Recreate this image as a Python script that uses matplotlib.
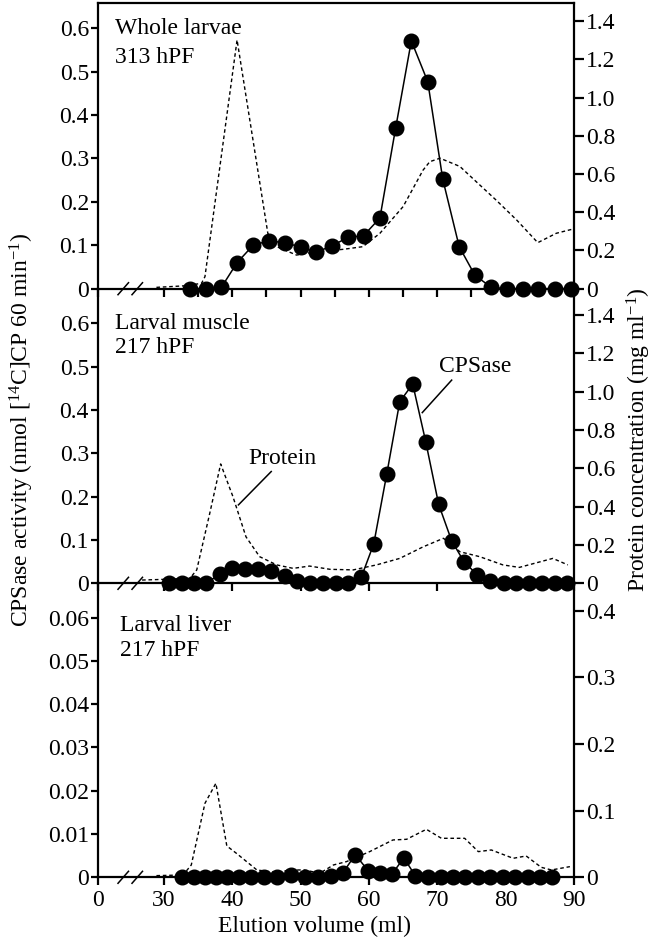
import numpy as np
import matplotlib
matplotlib.use("Agg")
import matplotlib.pyplot as plt

plt.rcParams['font.family'] = ['Liberation Serif', 'DejaVu Serif']
plt.rcParams['mathtext.fontset'] = 'custom'
plt.rcParams['mathtext.rm'] = 'Liberation Serif'
plt.rcParams['mathtext.it'] = 'Liberation Serif:italic'
FS = 17

# ---------------- data ----------------
# Whole larvae, 313 hPF
wl_cps_x = [33.8, 36.1, 38.4, 40.7, 43.1, 45.4, 47.7, 50.0, 52.3, 54.6, 56.9, 59.2, 61.6,
            63.9, 66.2, 68.6, 70.8, 73.2, 75.5, 77.9, 80.2, 82.5, 84.8, 87.2, 89.5]
wl_cps_y = [0.0, 0.0, 0.003, 0.060, 0.101, 0.110, 0.106, 0.096, 0.084, 0.099, 0.118, 0.122, 0.163,
            0.370, 0.571, 0.477, 0.252, 0.097, 0.031, 0.003, 0.0, 0.0, 0.0, 0.0, 0.0]
wl_prot_x = [28.9, 33.0, 35.5, 36.0, 40.7, 45.2, 46.5, 49.4, 52.3, 56.2, 59.1, 61.6, 65.0,
             67.9, 68.9, 70.4, 73.3, 75.7, 78.6, 81.6, 84.7, 87.4, 89.6]
wl_prot_y = [0.007, 0.015, 0.028, 0.063, 1.302, 0.290, 0.220, 0.176, 0.194, 0.206, 0.220, 0.290, 0.430,
             0.620, 0.665, 0.683, 0.640, 0.560, 0.464, 0.360, 0.241, 0.290, 0.310]

# Larval muscle, 217 hPF
lm_cps_x = [30.7, 32.6, 34.4, 36.2, 38.2, 40.0, 41.9, 43.8, 45.7, 47.7, 49.5, 51.3, 53.3, 55.2,
            57.0, 58.9, 60.7, 62.6, 64.5, 66.4, 68.3, 70.2, 72.1, 73.9, 75.8, 77.7, 79.7, 81.5,
            83.4, 85.3, 87.2, 89.0]
lm_cps_y = [0.0, 0.0, 0.0, 0.0, 0.022, 0.035, 0.032, 0.032, 0.028, 0.018, 0.005, 0.0, 0.0, 0.0,
            0.0, 0.015, 0.091, 0.252, 0.419, 0.460, 0.327, 0.182, 0.098, 0.050, 0.020, 0.005, 0.0, 0.0,
            0.0, 0.0, 0.0, 0.0]
lm_prot_x = [26.8, 30.4, 33.8, 34.8, 36.7, 38.3, 40.1, 42.0, 44.0, 46.5, 48.9, 51.3, 54.3, 57.7,
             61.1, 64.5, 67.9, 70.9, 73.3, 76.2, 79.6, 82.0, 86.9, 89.1]
lm_prot_y = [0.017, 0.021, 0.026, 0.070, 0.365, 0.623, 0.452, 0.243, 0.139, 0.096, 0.078, 0.090, 0.073, 0.070,
             0.096, 0.130, 0.190, 0.235, 0.165, 0.139, 0.096, 0.083, 0.130, 0.096]

# Larval liver, 217 hPF
lv_cps_x = [32.6, 34.4, 36.0, 37.6, 39.2, 41.0, 42.8, 44.7, 46.6, 48.6, 50.6, 52.6, 54.5, 56.2,
            58.0, 59.9, 61.6, 63.4, 65.1, 66.8, 68.7, 70.5, 72.3, 74.1, 75.9, 77.7, 79.6, 81.3,
            83.2, 85.0, 86.8]
lv_cps_y = [0.0, 0.0, 0.0, 0.0, 0.0, 0.0, 0.0, 0.0, 0.0, 0.0005, 0.0, 0.0, 0.0004, 0.0011,
            0.0052, 0.0015, 0.0011, 0.0008, 0.0045, 0.0003, 0.0, 0.0, 0.0, 0.0, 0.0, 0.0, 0.0, 0.0,
            0.0, 0.0, 0.0]
lv_prot_x = [28.9, 32.8, 34.0, 36.0, 37.6, 39.2, 40.6, 43.6, 46.5, 48.4, 50.6, 52.8, 54.8, 56.7,
             60.1, 63.5, 65.5, 68.4, 70.6, 74.0, 76.0, 77.9, 81.1, 83.0, 85.2, 86.7, 89.4]
lv_prot_y = [0.0025, 0.0035, 0.0185, 0.111, 0.141, 0.047, 0.036, 0.011, 0.007, 0.011, 0.011, 0.006, 0.0185, 0.0235,
             0.0385, 0.056, 0.057, 0.072, 0.0585, 0.0585, 0.0385, 0.041, 0.0285, 0.032, 0.015, 0.011, 0.016]

panel_titles = [("Whole larvae", "313 hPF"), ("Larval muscle", "217 hPF"), ("Larval liver", "217 hPF")]
left_ticks = [[0, 0.1, 0.2, 0.3, 0.4, 0.5, 0.6],
              [0, 0.1, 0.2, 0.3, 0.4, 0.5, 0.6],
              [0, 0.01, 0.02, 0.03, 0.04, 0.05, 0.06]]
left_ticklabels = [["0", "0.1", "0.2", "0.3", "0.4", "0.5", "0.6"],
                   ["0", "0.1", "0.2", "0.3", "0.4", "0.5", "0.6"],
                   ["0", "0.01", "0.02", "0.03", "0.04", "0.05", "0.06"]]
right_ticks = [[0, 0.2, 0.4, 0.6, 0.8, 1.0, 1.2, 1.4],
               [0, 0.2, 0.4, 0.6, 0.8, 1.0, 1.2, 1.4],
               [0, 0.1, 0.2, 0.3, 0.4]]
right_ticklabels = [["0", "0.2", "0.4", "0.6", "0.8", "1.0", "1.2", "1.4"],
                    ["0", "0.2", "0.4", "0.6", "0.8", "1.0", "1.2", "1.4"],
                    ["0", "0.1", "0.2", "0.3", "0.4"]]
left_lims = [0.6576, 0.680, 0.0679]
right_lims = [1.494, 1.538, 0.441]
x_major = [0, 30, 40, 50, 60, 70, 80, 90]
x_major_labels = ["0", "30", "40", "50", "60", "70", "80", "90"]
x_fine = [0, 30, 35, 40, 45, 50, 55, 60, 65, 70, 75, 80, 85, 90]

cps_sets = [(wl_cps_x, wl_cps_y), (lm_cps_x, lm_cps_y), (lv_cps_x, lv_cps_y)]
prot_sets = [(wl_prot_x, wl_prot_y), (lm_prot_x, lm_prot_y), (lv_prot_x, lv_prot_y)]

# ---------------- broken x scale (0-26 ml compressed) ----------------
B = 26.0
K = 0.2173


def fwd(x):
    x = np.asarray(x, dtype=float)
    return np.where(x >= B, x, B - (B - x) * K)


def inv(y):
    y = np.asarray(y, dtype=float)
    return np.where(y >= B, y, B - (B - y) / K)


W, H = 655, 940
fig = plt.figure(figsize=(W / 100, H / 100), dpi=100)

# panel frames in pixels: (top, bottom)
frames = [(3.3, 288.7), (288.7, 583.3), (583.3, 877.3)]
x0px, x1px = 98, 574
LW = 1.6

for i, (top, bot) in enumerate(frames):
    ax = fig.add_axes([x0px / W, 1 - bot / H, (x1px - x0px) / W, (bot - top) / H])
    ax2 = ax.twinx()
    ax.set_zorder(ax2.get_zorder() + 1)
    ax.patch.set_visible(False)

    for a in (ax, ax2):
        a.set_xscale('function', functions=(fwd, inv))
        a.set_xlim(0, 90)

    ax.set_ylim(0, left_lims[i])
    ax2.set_ylim(0, right_lims[i])

    # protein concentration (dashed), right axis
    px, py = prot_sets[i]
    ax2.plot(px, py, color='black', lw=1.0, linestyle=(0, (2.6, 2.0)))

    # CPSase activity (filled circles), left axis
    cx, cy = cps_sets[i]
    ax.plot(cx, cy, color='black', lw=1.1, marker='o', markersize=10.5,
            markerfacecolor='black', markeredgecolor='black', clip_on=False, zorder=5)

    # spines
    for s in ('left', 'bottom', 'top'):
        ax.spines[s].set_linewidth(LW)
    ax.spines['right'].set_visible(False)
    for s in ('left', 'bottom', 'top'):
        ax2.spines[s].set_visible(False)
    ax2.spines['right'].set_linewidth(LW)
    if i > 0:
        ax.spines['top'].set_visible(False)

    # ticks
    ax.set_yticks(left_ticks[i])
    ax.set_yticklabels(left_ticklabels[i], fontsize=FS)
    ax.tick_params(axis='y', direction='out', length=5, width=LW, pad=1.5)
    ax2.set_yticks(right_ticks[i])
    ax2.set_yticklabels(right_ticklabels[i], fontsize=FS)
    ax2.tick_params(axis='y', direction='out', length=7, width=LW, pad=1.5)
    ax.set_xticks(x_fine if i == 0 else x_major)
    ax.minorticks_off()
    ax2.minorticks_off()
    ax.tick_params(axis='x', direction='out', length=6, width=LW, pad=3, top=False)
    if i == 2:
        ax.set_xticklabels(x_major_labels, fontsize=FS)
    else:
        ax.set_xticklabels([])

    # axis break marks on the bottom axis
    hh = 6.0 / (bot - top)
    for xa in ((118 - x0px) / 476, (132 - x0px) / 476):
        ax.plot([xa, xa + 10.5 / 476], [-hh, hh], color='black', lw=1.1,
                transform=ax.transAxes, clip_on=False, zorder=6)

    # panel titles
    t1, t2 = panel_titles[i]
    xt = 0.036 if i < 2 else 0.046
    ys = [(0.891, 0.792), (0.862, 0.781), (0.839, 0.754)][i]
    ax.text(xt, ys[0], t1, transform=ax.transAxes, fontsize=FS, va='baseline', ha='left')
    ax.text(xt, ys[1], t2, transform=ax.transAxes, fontsize=FS, va='baseline', ha='left')

    if i == 1:
        ax.text(47.4, 0.289, "Protein", fontsize=FS, ha='center', va='center')
        ax.plot([45.7, 40.9], [0.258, 0.181], color='black', lw=1.1)
        ax.text(75.5, 0.500, "CPSase", fontsize=FS, ha='center', va='center')
        ax.plot([72.1, 67.8], [0.469, 0.394], color='black', lw=1.1)

fig.text(315 / W, 1 - 937 / H, "Elution volume (ml)", fontsize=FS, ha='center', va='bottom')
fig.text(22 / W, 1 - 430 / H, r"CPSase activity (nmol [$^{14}$C]CP 60 min$^{-1}$)",
         fontsize=FS, rotation=90, ha='center', va='center')
fig.text(639 / W, 1 - 440 / H, r"Protein concentration (mg ml$^{-1}$)",
         fontsize=FS, rotation=90, ha='center', va='center')

fig.savefig("out.png", dpi=100)
